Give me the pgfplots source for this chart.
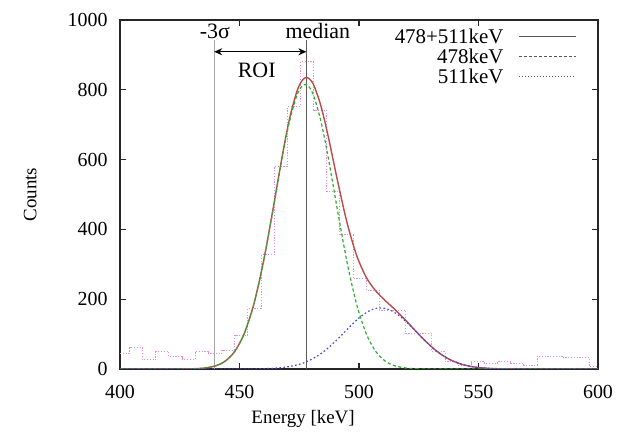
\documentclass[border=0pt]{standalone}
\usepackage{fontspec}
\setmainfont{Liberation Serif}
\usepackage{pgfplots}
\pgfplotsset{compat=1.18}
\usetikzlibrary{arrows.meta}

\definecolor{histc}{RGB}{228,140,228}
\definecolor{totc}{RGB}{185,75,75}
\definecolor{g478}{RGB}{50,170,50}
\definecolor{b511}{RGB}{70,70,215}

\begin{document}
\begin{tikzpicture}
\begin{axis}[
  scale only axis, width=239bp, height=174.5bp,
  xmin=400, xmax=600, ymin=0, ymax=1000,
  xtick={400,450,...,600}, ytick={0,200,...,1000},
  minor tick num=0,
  tick align=inside, major tick length=3bp,
  axis line style={black!85, line width=0.7bp},
  tick style={black!85, line width=0.6bp},
  /pgf/number format/assume math mode=true,
  /pgf/number format/1000 sep={},
  ticklabel style={font=\fontsize{10}{11}\selectfont},
  xticklabel style={yshift=-4.5bp},
  yticklabel style={xshift=-2.7bp},
  label style={font=\fontsize{9.5}{11}\selectfont},
  xlabel={Energy [keV]}, ylabel={Counts},
  x label style={at={(axis description cs:0.383,-0.142)}, anchor=center},
  y label style={at={(axis description cs:-0.188,0.5)}, anchor=center},
  legend style={draw=none, fill=none, inner sep=0pt, outer sep=0pt,
    at={(axis description cs:1,1)}, anchor=north east,
    xshift=-11bp, yshift=-4.5bp, font=\fontsize{10.5}{11}\selectfont, row sep=2.5bp,
    nodes={inner xsep=0pt, inner ysep=0pt, text height=7.5bp, text depth=0bp}},
  legend cell align=right,
  legend plot pos=right,
  legend image code/.code={\path (0bp,0bp); \draw[#1] (7.5bp,0bp) -- (35.8bp,0bp);},
]
% legend samples (black, as in the original)
\addlegendimage{black!65, line width=0.5bp}
\addlegendentry{478+511keV}
\addlegendimage{black!65, line width=0.5bp, dash pattern=on 1.5bp off 1bp}
\addlegendentry{478keV}
\addlegendimage{black!65, line width=0.5bp, dash pattern=on 0.5bp off 1bp}
\addlegendentry{511keV}

% measured spectrum
\addplot[const plot, histc, line width=0.5bp, dash pattern=on 0.6bp off 0.8bp, forget plot] coordinates {
(400,45) (404,61) (409.5,26) (415,50) (420.5,35) (426,28) (431.5,50) (437,43)
(442.5,54) (448,97) (453.5,174) (459,327) (464.5,580) (470,752) (475.5,880)
(481,742) (486.5,508) (492,384) (497.5,258) (503,226) (508.5,169) (514,169)
(519.5,102) (525,102) (530.5,50) (536,21) (541.5,11) (547,21) (552.5,16)
(558,21) (563.5,16) (569,11) (574.5,37) (580,37) (585.5,32) (591,32)
(596.5,7) (600,7)
};

% vertical markers
\addplot[black!35, line width=0.6bp, forget plot] coordinates {(439.4,0) (439.4,943)};
\addplot[black!65, line width=0.6bp, forget plot] coordinates {(478,0) (478,943)};
\addplot[black, line width=0.7bp, {Stealth[length=4bp,width=3.5bp]}-{Stealth[length=4bp,width=3.5bp]}, forget plot]
  coordinates {(439.4,909) (478,909)};

% total fit
\addplot[totc, line width=0.7bp, smooth, forget plot] coordinates {
(400,0) (425,0.1) (430,0.6) (435,2.5) (440,9.1) (444,22.5) (448,50.3) (452,101.8)
(456,186.0) (460,306.7) (464,456.8) (468,614.8) (471,719.0) (474,795.2) (476,824.7)
(477.5,834.3) (479,832.8) (481,814.4) (484,755.5) (487,670.3) (491,540.1)
(495,419.1) (499,325.8) (503,263.2) (507,223.7) (511,195.9) (515,170.6)
(520,136.2) (525,99.6) (530,65.8) (534,43.6) (538,27.0) (542,15.6) (546,8.4)
(550,4.2) (555,1.6) (560,0.5) (570,0) (600,0)
};
% 478 keV component
\addplot[g478, line width=0.6bp, dash pattern=on 1.6bp off 1.2bp, smooth, forget plot] coordinates {
(400,0) (425,0.1) (430,0.6) (435,2.5) (440,9.1) (444,22.5) (448,50.3) (452,101.7)
(456,185.7) (460,305.9) (464,454.9) (468,610.6) (471,711.9) (474,783.7) (476,809.1)
(477.5,815) (479,809.1) (481,783.7) (484,711.9) (487,610.6) (491,454.9)
(495,305.9) (499,185.7) (503,101.7) (507,50.3) (511,22.5) (515,9.1) (520,2.5)
(525,0.6) (530,0.1) (600,0)
};
% 511 keV component
\addplot[b511, line width=0.6bp, dash pattern=on 0.8bp off 1.2bp, smooth, forget plot] coordinates {
(400,0) (450,0.1) (455,0.3) (460,0.8) (465,2.4) (470,6.0) (475,13.4) (478,20.7)
(480,27.0) (484,43.6) (488,65.7) (492,92.1) (496,120.2) (500,146.2) (504,165.6)
(507,173.4) (509,175) (511,173.4) (514,165.6) (518,146.2) (522,120.2) (526,92.1)
(530,65.7) (534,43.6) (538,27.0) (542,15.6) (546,8.4) (550,4.2) (555,1.6)
(560,0.5) (570,0) (600,0)
};

\node[font=\fontsize{11}{11}\selectfont] at (axis cs:439.7,968) {-3σ};
\node[font=\fontsize{11}{11}\selectfont] at (axis cs:482.8,968) {median};
\node[font=\fontsize{11}{11}\selectfont] at (axis cs:457.2,857) {ROI};
\end{axis}
\pgfresetboundingbox
\path[use as bounding box] (current axis.south west) ++(-60bp,-31.5bp) rectangle ++(308.5bp,216bp);
\end{tikzpicture}
\end{document}
